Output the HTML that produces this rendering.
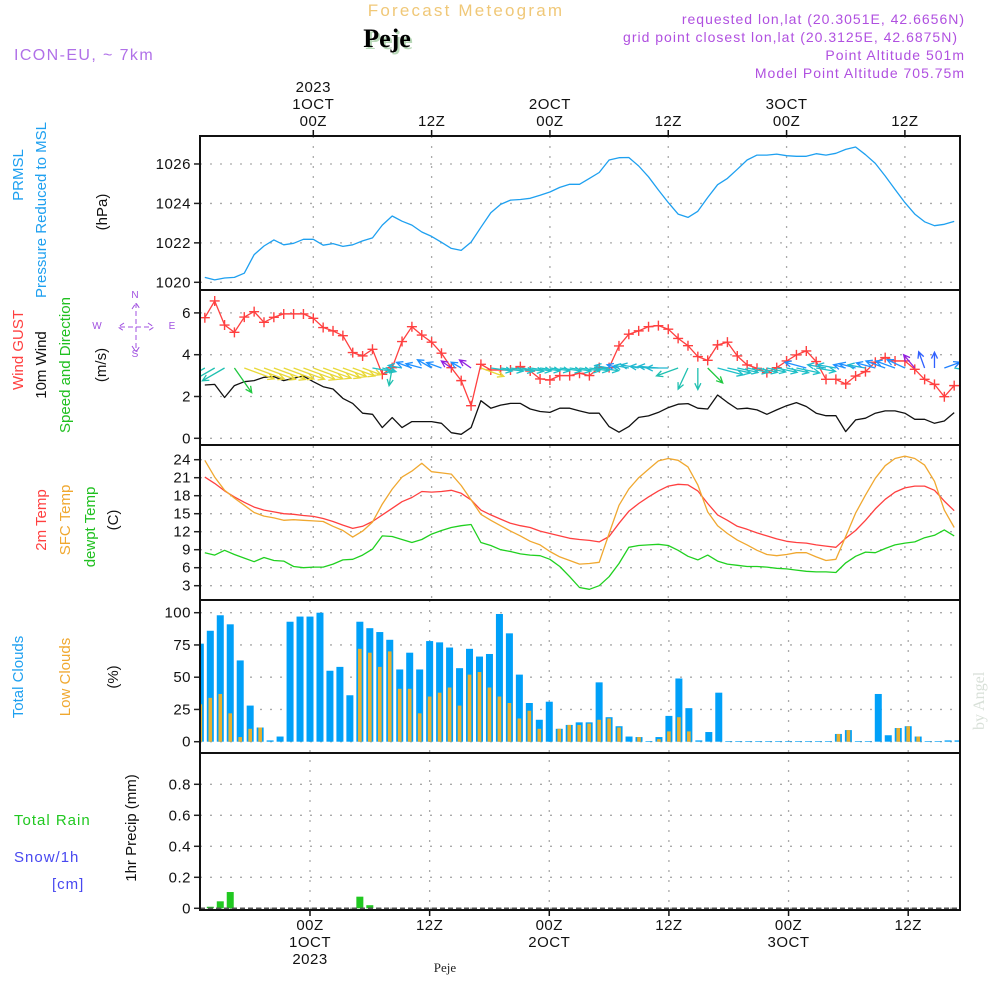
<!DOCTYPE html>
<html><head><meta charset="utf-8">
<style>
html,body{margin:0;padding:0;background:#fff;}
svg{display:block;}
</style></head>
<body>
<svg id="chart" width="1000" height="1000" viewBox="0 0 1000 1000" xmlns="http://www.w3.org/2000/svg" font-family="Liberation Sans, sans-serif">
<defs><clipPath id="plotclip"><rect x="201" y="136" width="758" height="774"/></clipPath></defs>
<g>
<text x="466" y="16" text-anchor="middle" font-size="17" fill="#f0c878" letter-spacing="2.2">Forecast Meteogram</text>
<text x="389" y="49" text-anchor="middle" font-size="26" font-weight="bold" fill="#b8d8b8" style="font-family:'Liberation Serif',serif">Peje</text>
<text x="387" y="47" text-anchor="middle" font-size="26" font-weight="bold" fill="#000" style="font-family:'Liberation Serif',serif">Peje</text>
<text x="14" y="60" font-size="16" fill="#b070e8" letter-spacing="1.4">ICON-EU, ~ 7km</text>
<text x="965" y="24" text-anchor="end" font-size="14" fill="#b050e0" letter-spacing="1">requested lon,lat (20.3051E, 42.6656N)</text>
<text x="958" y="42" text-anchor="end" font-size="14" fill="#b050e0" letter-spacing="1">grid point closest lon,lat (20.3125E, 42.6875N)</text>
<text x="965" y="60" text-anchor="end" font-size="14" fill="#b050e0" letter-spacing="1">Point Altitude 501m</text>
<text x="965" y="78" text-anchor="end" font-size="14" fill="#b050e0" letter-spacing="1">Model Point Altitude 705.75m</text>
<text x="445" y="972" text-anchor="middle" font-size="13" fill="#222" style="font-family:'Liberation Serif',serif">Peje</text>
<text transform="translate(984,730) rotate(-90)" font-size="16" fill="#d8e0d8" style="font-family:'Liberation Serif',serif">by Angel</text>
</g>
<g id="g"></g>
<g id="marks" clip-path="url(#plotclip)"></g>
<g id="frames"></g>
</svg>
<script>
// ---- data (hourly, hour -11 .. 65 relative to 00Z 1 OCT) ----
const hours = Array.from({length:77},(_, i)=>i-11);
const pressure = [1020.25,1020.12,1020.22,1020.25,1020.46,1021.4,1021.84,1022.15,1021.9,1021.98,1022.18,1022.18,1021.88,1021.96,1021.82,1021.9,1022.1,1022.25,1022.9,1023.36,1023.1,1022.9,1022.55,1022.33,1022.03,1021.72,1021.62,1022.04,1022.79,1023.53,1023.95,1024.17,1024.2,1024.26,1024.41,1024.58,1024.81,1024.97,1024.97,1025.27,1025.57,1026.2,1026.32,1026.33,1025.9,1025.35,1024.68,1024.04,1023.46,1023.29,1023.6,1024.3,1024.95,1025.27,1025.73,1026.2,1026.45,1026.45,1026.5,1026.42,1026.39,1026.39,1026.52,1026.45,1026.54,1026.74,1026.86,1026.47,1026.03,1025.39,1024.71,1024.04,1023.46,1023.07,1022.87,1022.94,1023.09];
const gust = [5.77,6.57,5.42,5.07,5.8,6.06,5.55,5.79,5.95,5.95,5.95,5.74,5.3,5.14,4.91,4.1,3.94,4.26,3.06,3.38,4.63,5.34,4.94,4.6,4.07,3.38,2.76,1.56,3.54,3.27,3.27,3.27,3.43,3.22,2.84,2.79,3.0,3.0,3.11,3.0,3.38,3.38,4.42,4.98,5.14,5.34,5.39,5.22,4.78,4.43,3.91,3.73,4.47,4.6,3.94,3.51,3.35,3.14,3.38,3.7,3.99,4.18,3.67,2.82,2.82,2.6,2.98,3.19,3.64,3.86,3.7,3.7,3.3,2.82,2.58,1.99,2.52];
const windSpeed = [2.55,2.58,1.95,2.52,2.71,2.76,2.92,2.95,2.76,2.87,2.98,2.71,2.47,2.36,1.91,1.67,1.2,1.15,0.51,0.99,0.51,0.8,0.8,0.8,0.72,0.27,0.19,0.51,1.8,1.44,1.59,1.67,1.67,1.4,1.28,1.24,1.44,1.44,1.31,1.2,1.2,0.56,0.29,0.56,1.0,1.07,1.24,1.47,1.63,1.66,1.44,1.4,2.07,1.72,1.4,1.44,1.36,1.15,1.36,1.56,1.71,1.52,1.2,1.08,1.08,0.32,0.88,0.96,1.2,1.31,1.31,1.2,0.91,0.91,0.72,0.83,1.23];
const windToward = [150,150,150,55,20,20,20,20,20,20,20,20,20,20,20,20,20,10,15,100,190,200,195,210,200,215,210,215,20,8,8,8,8,8,8,8,8,8,8,8,8,190,195,190,190,185,185,180,160,115,90,45,15,12,12,12,12,12,12,12,12,195,10,190,190,195,195,190,195,200,200,205,230,250,270,340,10];
const temp2m = [21.1,20.05,18.8,17.8,16.9,16.1,15.6,15.3,15.0,14.9,14.7,14.55,14.2,13.7,13.1,12.55,12.9,13.7,14.8,15.9,17.0,17.7,18.7,18.6,18.7,18.9,18.4,17.3,15.6,14.8,14.1,13.4,13.0,12.7,12.1,11.7,11.3,10.9,10.7,10.55,10.3,11.2,13.4,15.4,16.7,17.8,18.8,19.6,19.9,19.8,18.8,16.7,14.8,13.9,12.9,12.4,11.8,11.3,10.8,10.4,10.2,10.1,9.8,9.6,9.4,10.9,12.2,13.9,15.8,17.4,18.6,19.3,19.6,19.6,18.9,17.1,15.5];
const tempSfc = [23.9,21.1,18.9,17.6,16.4,15.2,14.6,14.3,13.9,14.0,13.9,13.8,13.7,12.9,12.2,11.1,12.1,13.6,16.6,19.1,21.1,22.1,23.4,22.0,21.8,21.6,19.7,17.3,14.9,13.9,13.0,12.1,11.3,10.4,9.8,8.7,7.8,7.2,6.6,6.7,6.9,11.7,16.4,19.1,21.0,22.4,23.8,24.2,23.9,22.8,19.8,15.3,13.0,11.7,10.6,9.8,8.9,8.2,8.0,8.2,8.5,8.5,7.8,7.2,7.4,11.2,15.1,18.1,20.9,23.0,24.2,24.6,24.2,23.1,20.4,15.6,12.7];
const dewpt = [8.5,8.1,8.9,8.2,7.6,7.0,7.7,7.2,7.1,6.2,6.0,6.1,6.1,6.6,7.3,7.4,8.1,9.1,11.3,11.2,10.7,10.2,10.7,11.6,12.2,12.7,13.0,13.2,10.2,9.7,9.0,8.7,8.3,8.1,8.0,7.4,6.2,4.5,2.7,2.4,3.0,4.5,6.7,9.4,9.7,9.8,9.9,9.7,8.9,7.9,7.3,8.1,7.1,6.6,6.4,6.2,6.2,6.1,5.9,5.8,5.6,5.4,5.3,5.3,5.2,6.8,7.9,8.6,8.5,9.2,9.8,10.1,10.3,11.0,11.4,12.3,11.3];
const totalClouds = [76,86,98,91,63,28,11,1,4,93,97,97,100,55,58,36,93,88,85,79,56,69,56,78,77,73,57,72,66,68,99,84,52,30,17,31,10,13,15,15,46,19,12,4,3.6,0.5,3.6,20,49,26,1,7.5,38,0.5,0.5,0.5,0.5,0.5,0.5,0.5,0.5,0.5,0.5,0.5,6,9,0.5,0.5,37,5,10.6,12,4,0.5,0.5,1,1];
const lowClouds = [29,34,37,22,3.6,10,11,0,0,0,0,0,0,0,0,0,72,69,58,70,41,41,22,35,38,42,28,52,54,42,35,30,18,24,10,0,10,13,13,14,17,18,11,0,3.6,0,2,8,19,8,0,0,0,0,0,0,0,0,0,0,0,0,0,0,6,9,0,0,0,0,10.6,12,4,0,0,0,0];
const precip = [0,0.01,0.045,0.105,0,0,0,0,0,0,0,0,0,0,0,0,0.075,0.02,0,0,0,0,0,0,0,0,0,0,0,0,0,0,0,0,0,0,0,0,0,0,0,0,0,0,0,0,0,0,0,0,0,0,0,0,0,0,0,0,0,0,0,0,0,0,0,0,0,0,0,0,0,0,0,0,0,0,0];
const pTicks = [1020,1022,1024,1026];
const wTicks = [0,2,4,6];
const tTicks = [3,6,9,12,15,18,21,24];
const cTicks = [0,25,50,75,100];
const rTicks = [0,0.2,0.4,0.6,0.8];
const timeTicks = [0,12,24,36,48,60];
const topTickLabels = [["2023","1OCT","00Z"],["","","12Z"],["","2OCT","00Z"],["","","12Z"],["","3OCT","00Z"],["","","12Z"]];
const botTickLabels = [["00Z","1OCT","2023"],["12Z","",""],["00Z","2OCT",""],["12Z","",""],["00Z","3OCT",""],["12Z","",""]];

// ---- scales ----
const L=200,R=960;
const xa = h => 313.3 + h*9.86;
const xb = h => 310 + h*9.97;
const yP = v => 282.3 - (v-1020)*19.72;
const yW = v => 438.3 - v*20.9;
const yT = v => 585.7 - (v-3)*6;
const yC = v => 741.7 - v*1.29;
const yR = v => 908.3 - v*155;
const panels = [[136,290],[290,445],[445,600],[600,753],[753,910]];

const NS="http://www.w3.org/2000/svg";
const g=document.getElementById('g');
const mk=document.getElementById('marks');
const fr=document.getElementById('frames');
function el(tag,attrs,parent){const e=document.createElementNS(NS,tag);for(const k in attrs)e.setAttribute(k,attrs[k]);(parent||g).appendChild(e);return e;}

function yAxis(ticks,ys,fmt,name){
  const grp=el('g',{});
  
  
  ticks.forEach(t=>{
    const y=ys(t);
    const gl=el('line',{x1:L,x2:R,y1:y,y2:y,stroke:'#aaa','stroke-width':1.3,'stroke-dasharray':'2 8'},grp);
    
    
    el('line',{x1:L-6,x2:L,y1:y,y2:y,stroke:'#222','stroke-width':1.5},grp);
    const tx=el('text',{x:L-9,y:y+5,'text-anchor':'end','font-size':15,fill:'#111','letter-spacing':0.5},grp);
    tx.textContent=fmt(t);
    
    
  });
}
function vGrid(xs,top,bot){
  timeTicks.forEach(h=>{
    const vl=el('line',{x1:xs(h),x2:xs(h),y1:top,y2:bot,stroke:'#aaa','stroke-width':1.3,'stroke-dasharray':'2 8'});
    
    
  });
}
vGrid(xa,136,600); vGrid(xb,600,910);
yAxis(pTicks,yP,v=>String(v),'pressure');
yAxis(wTicks,yW,v=>String(v),'wind');
yAxis(tTicks,yT,v=>String(v),'temp');
yAxis(cTicks,yC,v=>String(v),'clouds');
yAxis(rTicks,yR,v=>v===0?'0':v.toFixed(1),'precip');

function line(vals,ys,color,name,w){
  const d=vals.map((v,i)=>(i?'L':'M')+xa(hours[i]).toFixed(1)+' '+ys(v).toFixed(1)).join(' ');
  const p=el('path',{d,fill:'none',stroke:color,'stroke-width':w||1.3,'stroke-linejoin':'round'},mk);
  
  
  return p;
}
line(pressure,yP,'#1ea0f0','pressure-line');
line(windSpeed,yW,'#111','wind-speed-line');
line(gust,yW,'#ff4040','wind-gust-line');
gust.forEach((v,i)=>{
  const x=xa(hours[i]),y=yW(v);
  const m=el('path',{d:`M${x-5} ${y}H${x+5}M${x} ${y-5}V${y+5}`,stroke:'#ff4040','stroke-width':1.4},mk);
  
  
});
function arrowColor(a){
  if(a>=16&&a<40)return '#e8d838';
  if(a>=40&&a<80)return '#20c840';
  if(a>=80&&a<170)return '#20c0b0';
  if(a>=170&&a<193)return '#20b8d0';
  if(a>=193&&a<212)return '#2090ff';
  if(a>=212&&a<240)return '#9020e0';
  if(a>=240&&a<300)return '#3060ff';
  if(a>=300)return '#2080ff';
  return '#20c0c8';
}
windToward.forEach((a,i)=>{
  const x=xa(hours[i]),y=368;
  const len=10+8*windSpeed[i];
  const r=a*Math.PI/180;
  const x2=x+len*Math.cos(r),y2=y+len*Math.sin(r);
  const h1=r+Math.PI-0.45,h2=r+Math.PI+0.45;
  const c=arrowColor(a);
  const ar=el('path',{d:`M${x} ${y}L${x2} ${y2}M${x2+7*Math.cos(h1)} ${y2+7*Math.sin(h1)}L${x2} ${y2}L${x2+7*Math.cos(h2)} ${y2+7*Math.sin(h2)}`,stroke:c,'stroke-width':1.3,fill:'none'},mk);
  
  
});
line(temp2m,yT,'#ff4040','temp-2m-line');
line(tempSfc,yT,'#f0a830','temp-sfc-line');
line(dewpt,yT,'#20d020','dewpoint-line');

totalClouds.forEach((v,i)=>{
  const x=xb(hours[i]);
  const b=el('rect',{x:x-3.5,y:yC(v),width:7,height:yC(0)-yC(v),fill:'#00a0f8'},mk);
  
  
  const lv=lowClouds[i];
  const lb=el('rect',{x:x-1.8,y:yC(lv),width:3.6,height:yC(0)-yC(lv),fill:'#e8b030'},mk);
  
  
});
precip.forEach((v,i)=>{
  if(v<=0)return;
  const x=xb(hours[i]);
  const b=el('rect',{x:x-3.5,y:yR(v),width:7,height:yR(0)-yR(v),fill:'#20c820'},mk);
  
  
});
el('line',{x1:L,x2:R,y1:yR(0),y2:yR(0),stroke:'#555','stroke-width':1.5,'stroke-dasharray':'5 3'},mk);

panels.forEach(([t,b],k)=>{
  const f=el('rect',{x:L,y:t,width:R-L,height:b-t,fill:'none',stroke:'#111','stroke-width':2},fr);
  
  
});
timeTicks.forEach((h,k)=>{
  const xt=xa(h);
  el('line',{x1:xt,x2:xt,y1:130,y2:136,stroke:'#111','stroke-width':1.5});
  topTickLabels[k].forEach((s,j)=>{ if(!s)return;
    const t=el('text',{x:xt,y:92+j*17,'text-anchor':'middle','font-size':15,fill:'#111','letter-spacing':0.5});
    t.textContent=s;
    
    
  });
  const xb2=xb(h);
  el('line',{x1:xb2,x2:xb2,y1:910,y2:916,stroke:'#111','stroke-width':1.5});
  botTickLabels[k].forEach((s,j)=>{ if(!s)return;
    const t=el('text',{x:xb2,y:930+j*17,'text-anchor':'middle','font-size':15,fill:'#111','letter-spacing':0.5});
    t.textContent=s;
    
    
  });
});
function vt(x,y,s,color,name,size){
  const t=el('text',{transform:`translate(${x},${y}) rotate(-90)`,'text-anchor':'middle','font-size':size||15,fill:color});
  t.textContent=s;
  
  
}
vt(23,175,'PRMSL','#1ea0f0','pressure-title-1');
vt(46,210,'Pressure Reduced to MSL','#1ea0f0','pressure-title-2');
vt(107,212,'(hPa)','#111','pressure-unit');
vt(23,350,'Wind GUST','#ff4040','gust-title');
vt(46,365,'10m Wind','#111','wind-title');
vt(70,365,'Speed and Direction','#20c020','wind-dir-title');
vt(106,365,'(m/s)','#111','wind-unit');
vt(46,520,'2m Temp','#ff4040','temp-2m-title');
vt(70,520,'SFC Temp','#f0a830','temp-sfc-title');
vt(95,527,'dewpt Temp','#20c020','dewpoint-title');
vt(118,520,'(C)','#111','temp-unit');
vt(23,677,'Total Clouds','#1ea0f0','total-clouds-title');
vt(70,677,'Low Clouds','#f0a830','low-clouds-title');
vt(118,677,'(%)','#111','clouds-unit');
vt(136,828,'1hr Precip (mm)','#111','precip-title');
function ht(x,y,s,color,name){
  const t=el('text',{x,y,'font-size':15,fill:color,'letter-spacing':1});
  t.textContent=s;
  
  
}
ht(14,825,'Total   Rain','#20c820','rain-legend');
ht(14,862,'Snow/1h','#4848f0','snow-legend');
ht(52,889,'[cm]','#4848f0','snow-unit');
const cg=el('g',{fill:'#a050e0','font-size':10});


[['N',135,298],['S',135,357],['W',97,329],['E',172,329]].forEach(([s,x,y])=>{const t=el('text',{x,y,'text-anchor':'middle'},cg);t.textContent=s;});
el('path',{d:'M120 327H152M136 303V352M124 323L118 327L124 331M148 323L154 327L148 331M132 309L136 303L140 309M132 346L136 352L140 346',stroke:'#a050e0','stroke-width':1,fill:'none','stroke-dasharray':'5 3'},cg);
</script>
</body></html>
